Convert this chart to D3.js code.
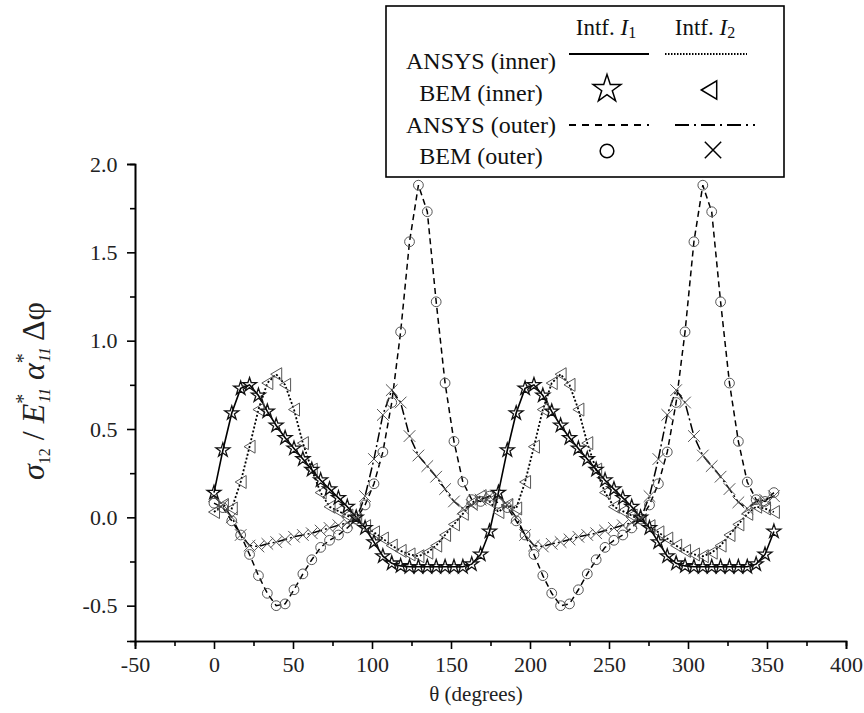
<!DOCTYPE html>
<html>
<head>
<meta charset="utf-8">
<script src="https://cdn.jsdelivr.net/npm/d3@7"></script>
<style>
  body { margin: 0; background: #fff; }
  svg text { font-family: "Liberation Serif", "Times New Roman", "DejaVu Serif", serif; }
</style>
</head>
<body>
<svg id="chart" width="864" height="713"></svg>
<script>
// theta (degrees) where the values were read
const theta = [0, 5.625, 11.25, 16.875, 22.5, 28.125, 33.75, 39.375, 45, 50.625, 56.25, 61.875,
  67.5, 73.125, 78.75, 84.375, 90, 95.625, 101.25, 106.875, 112.5, 118.125, 123.75, 129.375,
  135, 140.625, 146.25, 151.875, 157.5, 163.125, 168.75, 174.375,
  180, 185.625, 191.25, 196.875, 202.5, 208.125, 213.75, 219.375, 225, 230.625, 236.25, 241.875,
  247.5, 253.125, 258.75, 264.375, 270, 275.625, 281.25, 286.875, 292.5, 298.125, 303.75, 309.375,
  315, 320.625, 326.25, 331.875, 337.5, 343.125, 348.75, 354.375];

// inner interface I1 (solid / stars)
const innerI1 = [0.14, 0.38, 0.59, 0.73, 0.75, 0.69, 0.60, 0.52, 0.45, 0.39, 0.33, 0.27,
  0.21, 0.16, 0.11, 0.06, 0.00, -0.06, -0.14, -0.22, -0.26, -0.275, -0.28, -0.28,
  -0.28, -0.28, -0.28, -0.28, -0.28, -0.265, -0.21, -0.08,
  0.14, 0.38, 0.59, 0.73, 0.75, 0.69, 0.60, 0.52, 0.45, 0.39, 0.33, 0.27,
  0.21, 0.16, 0.11, 0.06, 0.00, -0.06, -0.14, -0.22, -0.26, -0.275, -0.28, -0.28,
  -0.28, -0.28, -0.28, -0.28, -0.28, -0.265, -0.21, -0.08];

// inner interface I2 (dotted / triangles)
const innerI2 = [0.03, 0.07, 0.05, 0.20, 0.40, 0.61, 0.76, 0.81, 0.75, 0.61, 0.42, 0.27,
  0.14, 0.06, 0.035, 0.01, -0.02, -0.05, -0.085, -0.12, -0.16, -0.19, -0.21, -0.22,
  -0.20, -0.16, -0.10, -0.04, 0.02, 0.08, 0.12, 0.09,
  0.03, 0.07, 0.05, 0.20, 0.40, 0.61, 0.76, 0.81, 0.75, 0.61, 0.42, 0.27,
  0.14, 0.06, 0.035, 0.01, -0.02, -0.05, -0.085, -0.12, -0.16, -0.19, -0.21, -0.22,
  -0.20, -0.16, -0.10, -0.04, 0.02, 0.06, 0.05, 0.03];

// outer interface I1 (dashed / circles)
const outerI1 = [0.08, 0.055, -0.02, -0.10, -0.21, -0.33, -0.43, -0.50, -0.49, -0.41, -0.32, -0.24,
  -0.17, -0.13, -0.10, -0.06, -0.01, 0.07, 0.19, 0.37, 0.65, 1.05, 1.56, 1.88,
  1.73, 1.22, 0.76, 0.43, 0.20, 0.10, 0.09, 0.12,
  0.08, 0.055, -0.02, -0.10, -0.21, -0.33, -0.43, -0.50, -0.49, -0.41, -0.32, -0.24,
  -0.17, -0.13, -0.10, -0.06, -0.01, 0.07, 0.19, 0.37, 0.65, 1.05, 1.56, 1.88,
  1.73, 1.22, 0.76, 0.43, 0.20, 0.10, 0.09, 0.14];

// outer interface I2 (dash-dot / crosses)
const outerI2 = [0.12, 0.07, 0.00, -0.10, -0.16, -0.165, -0.15, -0.14, -0.125, -0.11, -0.10, -0.09,
  -0.075, -0.06, -0.045, -0.03, -0.01, 0.12, 0.33, 0.58, 0.72, 0.65, 0.46, 0.35,
  0.29, 0.23, 0.16, 0.09, 0.05, 0.07, 0.10, 0.12,
  0.12, 0.07, 0.00, -0.10, -0.16, -0.165, -0.15, -0.14, -0.125, -0.11, -0.10, -0.09,
  -0.075, -0.06, -0.045, -0.03, -0.01, 0.12, 0.33, 0.58, 0.72, 0.65, 0.46, 0.35,
  0.29, 0.23, 0.16, 0.085, 0.05, 0.09, 0.10, 0.12];

const xTicks = [-50, 0, 50, 100, 150, 200, 250, 300, 350, 400];
const yTicks = [-0.5, 0.0, 0.5, 1.0, 1.5, 2.0];
const legendRows = ["ANSYS (inner)", "BEM (inner)", "ANSYS (outer)", "BEM (outer)"];
const legendCols = ["1", "2"];

const svg = d3.select("#chart");
const mLeft = 135, mRight = 846, mTop = 164, mBottom = 641;

const x = d3.scaleLinear().domain([-50, 400]).range([mLeft, mRight]);
const y = d3.scaleLinear().domain([-0.7, 2.0]).range([mBottom, mTop]);

// hyphen instead of unicode minus, like the original
const fmtX = d => d3.format("d")(d).replace("−", "-");
const fmtY = d => d3.format(".1f")(d).replace("−", "-");

// axes
const xAxis = d3.axisBottom(x).tickValues(xTicks).tickSize(8).tickFormat(fmtX);
const xMinor = d3.axisBottom(x).tickValues(d3.range(-25, 400, 50)).tickSize(5).tickFormat("");
const yAxis = d3.axisLeft(y).tickValues(yTicks).tickSize(8).tickFormat(fmtY);
const yMinor = d3.axisLeft(y).tickValues([-0.25, 0.25, 0.75, 1.25, 1.75]).tickSize(5).tickFormat("");

function styleAxis(g){
  g.attr("font-family", "Liberation Serif").attr("font-size", 22);
  g.select(".domain").attr("stroke", "#000").attr("stroke-width", 1.6);
  g.selectAll(".tick line").attr("stroke", "#000").attr("stroke-width", 1.6);
  g.selectAll(".tick text").attr("fill", "#222")
    .attr("font-size", 22).style("font-size", "22px")
    .style("font-family", "'Liberation Serif', 'Times New Roman', serif");
}
svg.append("g").attr("transform", `translate(0,${mBottom})`).call(xMinor).call(styleAxis);
svg.append("g").attr("transform", `translate(0,${mBottom})`).call(xAxis).call(styleAxis)
  .selectAll(".tick text").attr("dy", "0.9em");
svg.append("g").attr("transform", `translate(${mLeft},0)`).call(yMinor).call(styleAxis);
svg.append("g").attr("transform", `translate(${mLeft},0)`).call(yAxis).call(styleAxis)
  .selectAll(".tick text").attr("dx", "-0.3em");

// axis titles
svg.append("text").attr("x", 476).attr("y", 701).attr("text-anchor", "middle")
  .style("font-size", "21px").attr("fill", "#222").text("θ (degrees)");

const yl = svg.append("text").attr("transform", "translate(44,391) rotate(-90)")
  .attr("text-anchor", "middle").style("font-size", "32px").attr("fill", "#222");
yl.append("tspan").style("font-style", "italic").text("σ");
yl.append("tspan").attr("dy", 6).style("font-size", "16px").text("12");
yl.append("tspan").attr("dy", -6).text(" / ");
yl.append("tspan").style("font-style", "italic").text("E");
yl.append("tspan").attr("dy", -14).style("font-size", "20px").text("*");
yl.append("tspan").attr("dx", -9).attr("dy", 20).style("font-size", "16px").style("font-style", "italic").text("11");
yl.append("tspan").attr("dy", -6).style("font-style", "italic").text(" α");
yl.append("tspan").attr("dy", -14).style("font-size", "20px").text("*");
yl.append("tspan").attr("dx", -9).attr("dy", 20).style("font-size", "16px").style("font-style", "italic").text("11");
yl.append("tspan").attr("dy", -6).text(" Δφ");

// series
const series = [
  {vals: outerI1, dash: "6,4", width: 1.5, sym: "circle"},
  {vals: outerI2, dash: "10,3,2,3", width: 1.5, sym: "cross"},
  {vals: innerI2, dash: "2,2", width: 1.8, sym: "tri"},
  {vals: innerI1, dash: null, width: 1.6, sym: "star"}
];

const line = d3.line().x(d => x(d[0])).y(d => y(d[1]));

series.forEach(s => {
  const pts = theta.map((t, i) => [t, s.vals[i]]);
  svg.append("path").datum(pts).attr("d", line).attr("fill", "none")
    .attr("stroke", "#000").attr("stroke-width", s.width)
    .attr("stroke-dasharray", s.dash);
});

function symbolPath(sym, scale){
  if(sym === "tri"){
    const h = 6.5 * scale, w = 5.5 * scale;
    return `M${-w},0L${w},${-h}L${w},${h}Z`;
  }
  const types = {circle: d3.symbolCircle, cross: d3.symbolTimes, star: d3.symbolStar};
  const sizes = {circle: 75, cross: 90, star: 60};
  return d3.symbol().type(types[sym]).size(sizes[sym] * scale * scale)();
}

series.forEach(s => {
  svg.append("g").selectAll("path").data(theta.map((t, i) => [t, s.vals[i]])).join("path")
    .attr("transform", d => `translate(${x(d[0])},${y(d[1])})`)
    .attr("d", symbolPath(s.sym, 1))
    .attr("fill", "none")
    .attr("stroke", s.sym === "star" ? "#111" : "#555")
    .attr("stroke-width", s.sym === "star" ? 1.3 : 1);
});

// legend
const lg = svg.append("g");
lg.append("rect").attr("x", 386).attr("y", 6).attr("width", 398).attr("height", 171)
  .attr("fill", "#fff").attr("stroke", "#000").attr("stroke-width", 1.6);

const colX = [606, 705];
legendCols.forEach((c, i) => {
  const t = lg.append("text").attr("x", colX[i]).attr("y", 35).attr("text-anchor", "middle")
    .style("font-size", "23px").attr("fill", "#111");
  t.append("tspan").text("Intf. ");
  t.append("tspan").style("font-style", "italic").text("I");
  t.append("tspan").attr("dy", 3).style("font-size", "16px").text(c);
});

const rowY = [61, 93, 125, 156];
legendRows.forEach((r, i) => {
  lg.append("text").attr("x", 481).attr("y", rowY[i] + 8).attr("text-anchor", "middle")
    .style("font-size", "24px").attr("fill", "#111").text(r);
});

// legend samples
const legendLines = [
  {x0: 569, x1: 649, yy: 54, dash: null, w: 2},
  {x0: 665, x1: 747, yy: 54, dash: "1.5,1.5", w: 2},
  {x0: 569, x1: 649, yy: 125, dash: "7,6", w: 2},
  {x0: 675, x1: 755, yy: 125, dash: "14,5,2,5", w: 2}
];
legendLines.forEach(l => {
  lg.append("line").attr("x1", l.x0).attr("x2", l.x1).attr("y1", l.yy).attr("y2", l.yy)
    .attr("stroke", "#000").attr("stroke-width", l.w).attr("stroke-dasharray", l.dash);
});
const legendMarks = [
  {sym: "star", cx: 607, cy: 89},
  {sym: "tri", cx: 709, cy: 90},
  {sym: "circle", cx: 607, cy: 151},
  {sym: "cross", cx: 713, cy: 150}
];
legendMarks.forEach(m => {
  lg.append("path").attr("transform", `translate(${m.cx},${m.cy})`)
    .attr("d", symbolPath(m.sym, m.sym === "star" ? 2 : 1.4)).attr("fill", "none")
    .attr("stroke", "#000").attr("stroke-width", 1.5);
});
</script>
</body>
</html>
